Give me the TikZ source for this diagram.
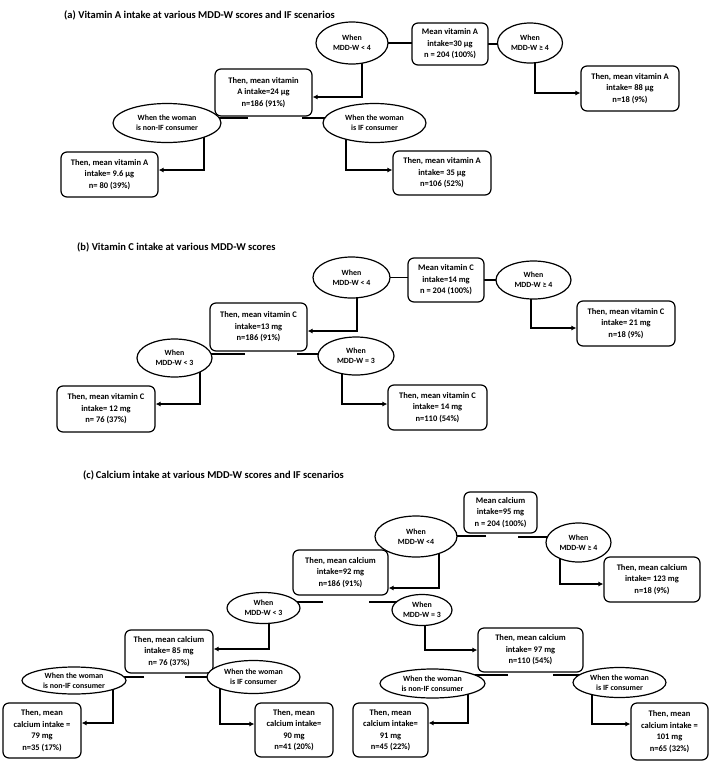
\documentclass[tikz,border=0pt]{standalone}
\usepackage{fontspec}
\setmainfont{Carlito}
\usetikzlibrary{arrows.meta,shapes.geometric,backgrounds}

\begin{document}
\begin{tikzpicture}[
    x=1pt, y=-1pt,
    sz/.style 2 args={minimum width=#1pt, minimum height=#2pt},
    box/.style={draw, rounded corners=6pt, fill=white, line width=1.2pt, align=center, inner sep=0pt, font=\fontsize{8.5}{11.5}\selectfont\bfseries},
    cond/.style={draw, ellipse, fill=white, line width=1.2pt, align=center, inner sep=0pt, font=\fontsize{7.9}{10.3}\selectfont\bfseries},
    link/.style={-{Latex[length=5pt,width=5pt]}, line width=1.4pt},
    stub/.style={line width=1.4pt},
    title/.style={anchor=west, inner sep=0pt, font=\fontsize{10.5}{12}\selectfont\bfseries}
]
\useasboundingbox (0,0) rectangle (709,764);

% (a) vitamin A
\node[title] (ta) at (64,15) {(a) Vitamin A intake at various MDD-W scores and IF scenarios};
\node[box, sz={76}{42}] (a0) at (450,44) {Mean vitamin A\\intake=30 µg\\n = 204 (100\%)};
\node[cond, sz={72}{42}] (a1) at (352,43) {When\\MDD-W < 4};
\node[cond, sz={65}{40}] (a2) at (530,43) {When\\MDD-W ≥ 4};
\node[box, sz={97}{47}] (a3) at (263.5,92.5) {Then, mean vitamin\\A intake=24 µg\\n=186 (91\%)};
\node[box, sz={98}{45}] (a4) at (630,88.5) {Then, mean vitamin A\\intake= 88 µg\\n=18 (9\%)};
\node[cond, sz={108}{39}] (a5) at (167,123) {When the woman\\is non-IF consumer};
\node[cond, sz={103}{39}] (a6) at (374.5,123) {When the woman\\is IF consumer};
\node[box, sz={97}{45}] (a7) at (109.5,174.5) {Then, mean vitamin A\\intake= 9.6 µg\\n= 80 (39\%)};
\node[box, sz={98}{44}] (a8) at (442,173) {Then, mean vitamin A\\intake= 35 µg\\n=106 (52\%)};
\coordinate (sa1) at (248,118);
\coordinate (sa2) at (302,118);

% (b) vitamin C
\node[title] (tb) at (77,247) {(b) Vitamin C intake at various MDD-W scores};
\node[box, sz={76}{44}] (b0) at (446,280) {Mean vitamin C\\intake=14 mg\\n = 204 (100\%)};
\node[cond, sz={77}{41}] (b1) at (351.5,277.5) {When\\MDD-W < 4};
\node[cond, sz={75}{38}] (b2) at (533.5,280) {When\\MDD-W ≥ 4};
\node[box, sz={97}{48}] (b3) at (258.5,327) {Then, mean vitamin C\\intake=13 mg\\n=186 (91\%)};
\node[box, sz={98}{45}] (b4) at (626,323.5) {Then, mean vitamin C\\intake= 21 mg\\n=18 (9\%)};
\node[cond, sz={75}{38}] (b5) at (174.5,358) {When\\MDD-W < 3};
\node[cond, sz={76}{38}] (b6) at (356,356) {When\\MDD-W = 3};
\node[box, sz={98}{46}] (b7) at (106,409) {Then, mean vitamin C\\intake= 12 mg\\n= 76 (37\%)};
\node[box, sz={99}{45}] (b8) at (437.5,407.5) {Then, mean vitamin C\\intake= 14 mg\\n=110 (54\%)};
\coordinate (sb1) at (245,354);
\coordinate (sb2) at (297,354);

% (c) calcium
\node[title] (tc) at (83,475) {(c)\,Calcium intake at various MDD-W scores and IF scenarios};
\node[box, sz={73}{41}] (c0) at (500.5,512.5) {Mean calcium\\intake=95 mg\\n = 204 (100\%)};
\node[cond, sz={82}{41}] (c1) at (416,536.5) {When\\MDD-W <4};
\node[cond, sz={65}{39}] (c2) at (578.5,542.5) {When\\MDD-W ≥ 4};
\node[box, sz={95}{45}] (c3) at (340.5,572.5) {Then, mean calcium\\intake=92 mg\\n=186 (91\%)};
\node[box, sz={96}{45}] (c4) at (652,579.5) {Then, mean calcium\\intake= 123 mg\\n=18 (9\%)};
\node[cond, sz={73}{31}] (c5) at (263.5,608) {When\\MDD-W < 3};
\node[cond, sz={60}{31}] (c6) at (422,610) {When\\MDD-W = 3};
\node[box, sz={88}{43}] (c7) at (169,651.5) {Then, mean calcium\\intake= 85 mg\\n= 76 (37\%)};
\node[box, sz={105}{44}] (c8) at (530.5,650) {Then, mean calcium\\intake= 97 mg\\n=110 (54\%)};
\node[cond, sz={104}{27}] (c9) at (74,680.5) {When the woman\\is non-IF consumer};
\node[cond, sz={93}{33}] (c10) at (253.5,677) {When the woman\\is IF consumer};
\node[cond, sz={105}{29}] (c13) at (432.5,683.5) {When the woman\\is non-IF consumer};
\node[cond, sz={93}{30}] (c14) at (619.5,682.5) {When the woman\\is IF consumer};
\node[box, sz={78}{55}] (c11) at (42,730.5) {Then, mean\\calcium intake =\\79 mg\\n=35 (17\%)};
\node[box, sz={78}{54}] (c12) at (294,730) {Then, mean\\calcium intake=\\90 mg\\n=41 (20\%)};
\node[box, sz={75}{54}] (c15) at (390.5,730) {Then, mean\\calcium intake=\\91 mg\\n=45 (22\%)};
\node[box, sz={77}{57}] (c16) at (669.5,731.5) {Then, mean\\calcium intake =\\101 mg\\n=65 (32\%)};
\coordinate (sc1) at (486,536);
\coordinate (sc2) at (518,537);
\coordinate (sc3) at (323,602);
\coordinate (sc4) at (369,602);
\coordinate (sc5) at (144,677);
\coordinate (sc6) at (185,677);
\coordinate (sc7) at (508,675);
\coordinate (sc8) at (553,675);

\begin{scope}[on background layer]
% (a)
\draw[stub] (a1.center) -- (a1.center -| a0.center);
\draw[stub] (a0.center) -- (a0.center -| a2.center);
\draw[link] ([xshift=10pt]a1.center) |- ([yshift=-4.5pt]a3.east);
\draw[link] ([xshift=5pt]a2.center) |- ([yshift=-4.5pt]a4.west);
\draw[stub] (sa1) -- (sa1 -| a5.center);
\draw[stub] (sa2) -- (sa2 -| a6.center);
\draw[link] ([xshift=37pt]a5.center) |- ([yshift=4.5pt]a7.east);
\draw[link] ([xshift=-28.5pt]a6.center) |- ([yshift=3pt]a8.west);
% (b)
\draw[stub] (b1.center) -- (b1.center -| b0.center);
\draw[stub] (b0.center) -- (b0.center -| b2.center);
\draw[link] ([xshift=5.5pt]b1.center) |- ([yshift=-4pt]b3.east);
\draw[link] ([xshift=-2.5pt]b2.center) |- ([yshift=-4.5pt]b4.west);
\draw[stub] (sb1) -- (sb1 -| b5.center);
\draw[stub] (sb2) -- (sb2 -| b6.center);
\draw[link] ([xshift=25.5pt]b5.center) |- ([yshift=5pt]b7.east);
\draw[link] ([xshift=-14pt]b6.center) |- ([yshift=3.5pt]b8.west);
% (c)
\draw[stub] (sc1) -- (sc1 -| c1.center);
\draw[stub] (sc2) -- (sc2 -| c2.center);
\draw[link] ([xshift=23pt]c1.center) |- ([yshift=-15.5pt]c3.east);
\draw[link] ([xshift=-18.5pt]c2.center) |- ([yshift=-4.5pt]c4.west);
\draw[stub] (sc3) -- (sc3 -| c5.center);
\draw[stub] (sc4) -- (sc4 -| c6.center);
\draw[link] ([xshift=5.5pt]c5.center) |- ([yshift=2.5pt]c7.east);
\draw[link] ([xshift=3pt]c6.center) |- (c8.west);
\draw[stub] (sc5) -- (sc5 -| c9.center);
\draw[stub] (sc6) -- (sc6 -| c10.center);
\draw[link] ([xshift=39pt]c9.center) |- ([yshift=7.5pt]c11.east);
\draw[link] ([xshift=-33.5pt]c10.center) |- ([yshift=6pt]c12.west);
\draw[stub] (sc7) -- (sc7 -| c13.center);
\draw[stub] (sc8) -- (sc8 -| c14.center);
\draw[link] ([xshift=35.5pt]c13.center) |- ([yshift=7pt]c15.east);
\draw[link] ([xshift=-27.5pt]c14.center) |- ([yshift=7.5pt]c16.west);
\end{scope}
\end{tikzpicture}
\end{document}
